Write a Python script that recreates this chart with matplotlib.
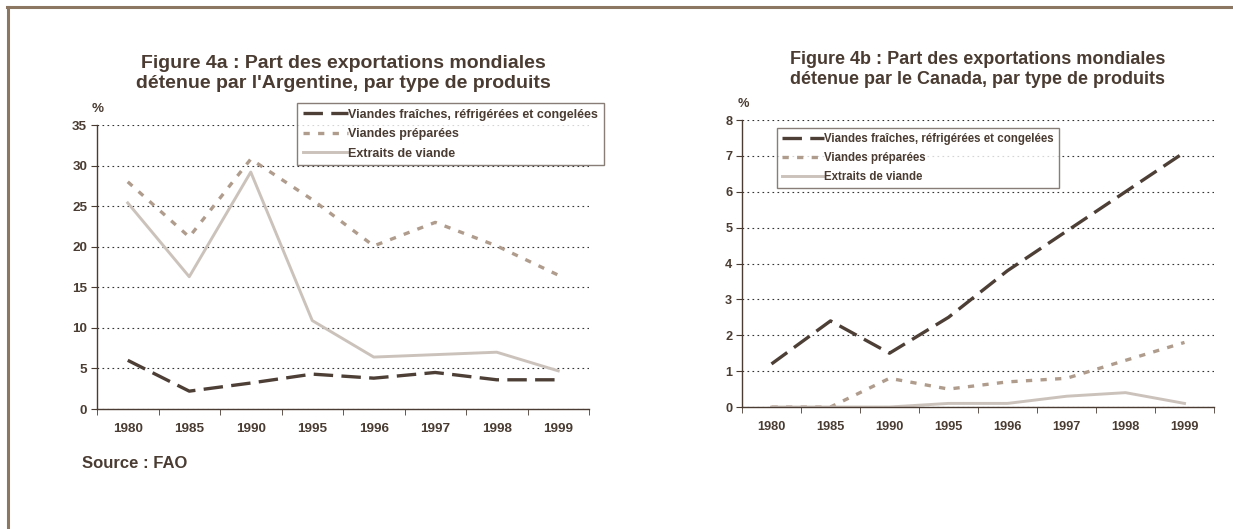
import matplotlib
matplotlib.use("Agg")
import matplotlib.pyplot as plt
from matplotlib.lines import Line2D

years = ["1980", "1985", "1990", "1995", "1996", "1997", "1998", "1999"]

# Argentine
arg_fraiches = [6.0, 2.2, 3.2, 4.3, 3.8, 4.5, 3.6, 3.6]
arg_preparees = [28.0, 21.2, 30.8, 25.8, 20.1, 23.0, 20.1, 16.5]
arg_extraits = [25.4, 16.3, 29.2, 10.9, 6.4, 6.7, 7.0, 4.7]

# Canada
can_fraiches = [1.2, 2.4, 1.5, 2.5, 3.8, 4.9, 6.0, 7.1]
can_preparees = [0.0, 0.0, 0.8, 0.5, 0.7, 0.8, 1.3, 1.8]
can_extraits = [0.0, 0.0, 0.0, 0.1, 0.1, 0.3, 0.4, 0.1]

labels = ["Viandes fraîches, réfrigérées et congelées",
          "Viandes préparées",
          "Extraits de viande"]

TXT = "#4a3c32"
C_FR = "#4d3f36"
C_PR = "#b09c8c"
C_EX = "#cbc2bb"
FRAME = "#8c7763"

plt.rcParams['font.family'] = ['Liberation Sans', 'DejaVu Sans']
plt.rcParams['font.weight'] = 'bold'
plt.rcParams['lines.scale_dashes'] = False

fig = plt.figure(figsize=(12.33, 5.29), dpi=100)

# outer frame (top and left)
fig.add_artist(Line2D([0.006, 1.0], [0.987, 0.987], color=FRAME, lw=2.2,
                      transform=fig.transFigure))
fig.add_artist(Line2D([0.0065, 0.0065], [0.0, 0.987], color=FRAME, lw=2.2,
                      transform=fig.transFigure))


def draw(ax, fr, pr, ex, ymax, ystep, title, tsize, tpad, ticksize, legsize,
         legend_bbox, lspace):
    x = list(range(len(years)))
    h1, = ax.plot(x, fr, color=C_FR, lw=2.4, dashes=(14, 6))
    h2, = ax.plot(x, pr, color=C_PR, lw=2.4, dashes=(4.5, 6))
    h3, = ax.plot(x, ex, color=C_EX, lw=2.1)
    ax.set_xlim(-0.5, len(years) - 0.5)
    ax.set_ylim(0, ymax)
    ax.set_yticks(range(0, ymax + 1, ystep))
    ax.set_xticks(x)
    ax.set_xticklabels(years)
    ax.set_xticks([i - 0.5 for i in range(len(years) + 1)], minor=True)
    ax.tick_params(axis='x', which='major', length=0, pad=10, labelsize=ticksize,
                   labelcolor=TXT)
    ax.tick_params(axis='x', which='minor', length=4, direction='out', color=TXT)
    ax.tick_params(axis='y', length=4, direction='out', color=TXT, labelsize=ticksize,
                   labelcolor=TXT, pad=3)
    for s in ['top', 'right']:
        ax.spines[s].set_visible(False)
    for s in ['left', 'bottom']:
        ax.spines[s].set_color(TXT)
        ax.spines[s].set_linewidth(1.0)
    ax.yaxis.grid(True, color="#333333", lw=0.8, dashes=(1.2, 2.4))
    ax.set_axisbelow(True)
    ax.text(-0.01, 1.035, "%", transform=ax.transAxes, fontsize=ticksize, color=TXT,
            ha='left', va='bottom')
    ax.set_title(title, fontsize=tsize, color=TXT, fontweight='bold', pad=tpad,
                 linespacing=1.2)
    leg = ax.legend([h1, h2, h3], labels, loc='upper left', bbox_to_anchor=legend_bbox,
                    bbox_transform=fig.transFigure, fontsize=legsize, frameon=True,
                    fancybox=False, handlelength=3.6, handletextpad=0.05,
                    borderpad=0.45, labelspacing=lspace, borderaxespad=0)
    leg.get_frame().set_edgecolor("#6a5e55")
    leg.get_frame().set_linewidth(1.0)
    for t in leg.get_texts():
        t.set_color(TXT)


ax1 = fig.add_axes([97 / 1233, 1 - 409 / 529, 492 / 1233, 284 / 529])
draw(ax1, arg_fraiches, arg_preparees, arg_extraits, 35, 5,
     "Figure 4a : Part des exportations mondiales\ndétenue par l'Argentine, par type de produits",
     14, 27, 9.7, 9, (297 / 1233, 1 - 103 / 529), 0.6)

ax2 = fig.add_axes([742 / 1233, 1 - 407 / 529, 472 / 1233, 287 / 529])
draw(ax2, can_fraiches, can_preparees, can_extraits, 8, 1,
     "Figure 4b : Part des exportations mondiales\ndétenue par le Canada, par type de produits",
     13, 26, 9.2, 8.3, (777 / 1233, 1 - 128 / 529), 0.6)

fig.text(82 / 1233, 1 - 464 / 529, "Source : FAO", fontsize=12, color=TXT,
         fontweight='bold', ha='left', va='center')

fig.savefig("out.png", dpi=100, facecolor='white')
